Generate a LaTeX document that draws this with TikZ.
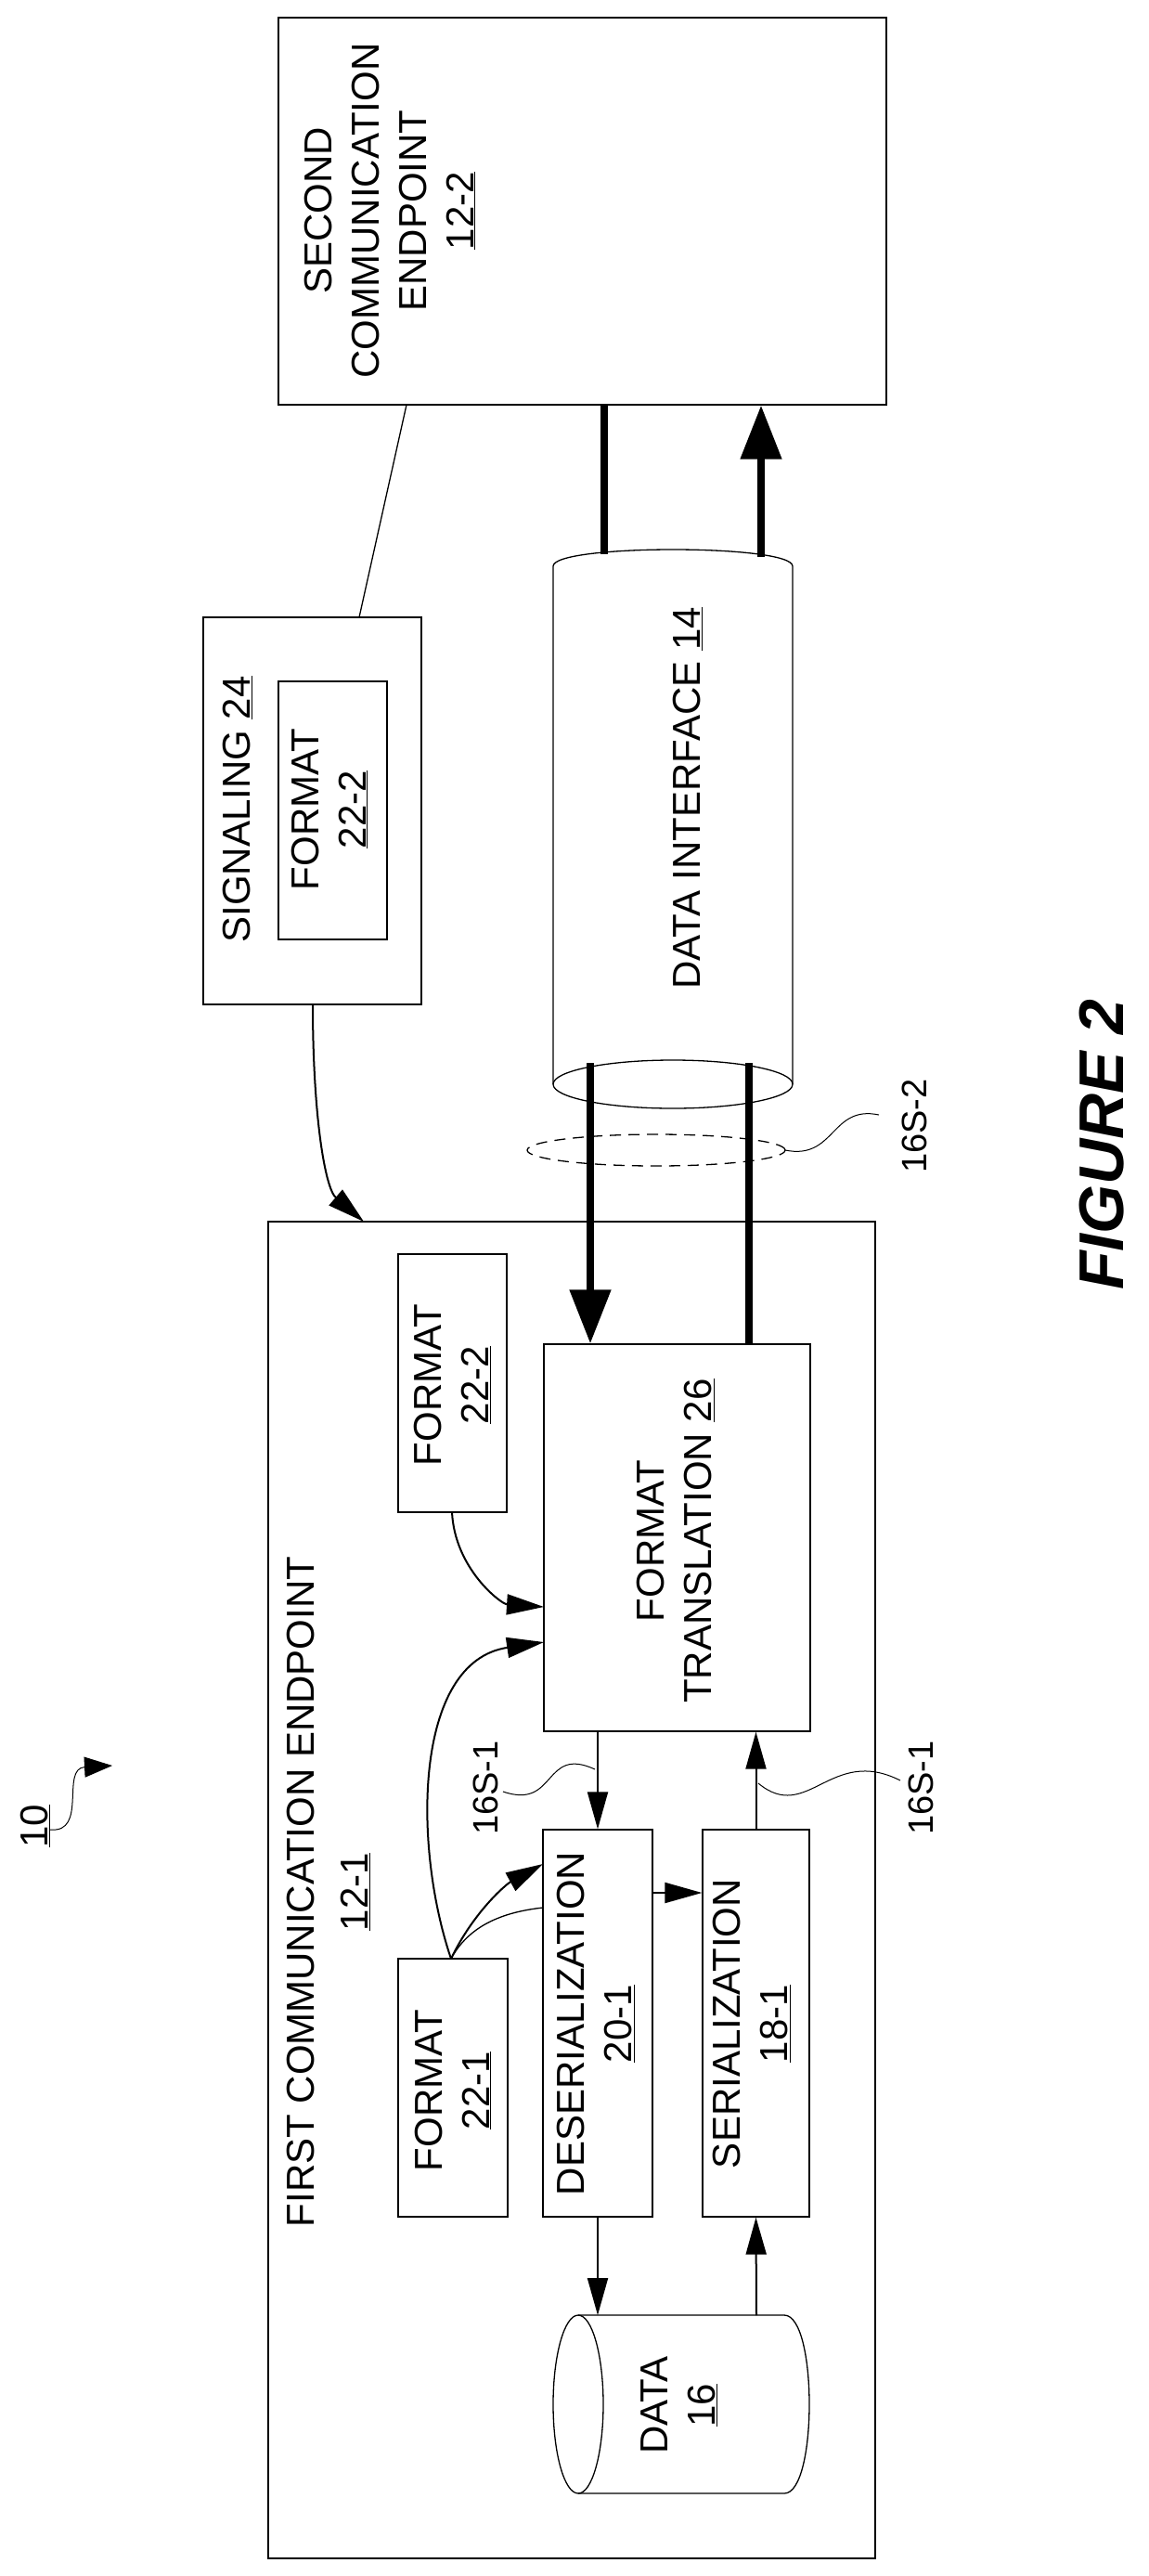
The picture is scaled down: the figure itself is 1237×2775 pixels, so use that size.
\documentclass[tikz,border=0pt]{standalone}
\usepackage{fontspec}
\setmainfont{Liberation Sans}
\usetikzlibrary{arrows.meta}
\begin{document}
\begin{tikzpicture}[x=1pt,y=-1pt,
  box/.style={draw,line width=1.3pt,inner sep=0pt},
  txt/.style={rotate=90,align=center,inner sep=0pt,font=\fontsize{42}{51}\selectfont},
  small/.style={rotate=90,inner sep=0pt,font=\fontsize{38}{46}\selectfont},
  thin/.style={line width=1pt},
  arr/.style={line width=2pt,-{Triangle[length=40pt,width=22pt]}},
  thick/.style={line width=8pt},
  tarr/.style={line width=8pt,-{Triangle[length=58pt,width=43pt]}},
  conn/.style={line width=1.3pt}]
\useasboundingbox (0,0) rectangle (1237,2775);
% second endpoint
\node[box,minimum width=655pt,minimum height=417pt] (ep2) at (627.5,227.5) {};
\node[txt] (ep2t) at (420,227) {SECOND\\COMMUNICATION\\ENDPOINT\\\underline{12-2}};
% signaling
\node[box,minimum width=235pt,minimum height=417pt] (sig) at (336.5,873.5) {};
\node[txt] (sigt) at (256,872) {SIGNALING \underline{24}};
\node[box,minimum width=117pt,minimum height=278pt] (sigf) at (358.5,873) {};
\node[txt] (sigft) at (355,872) {FORMAT\\\underline{22-2}};
% data interface cylinder
\draw[conn] (596,1168) -- (596,610) .. controls (596,586) and (854,586) .. (854,610) -- (854,1168);
\draw[conn] (725,1168) ellipse [x radius=129pt,y radius=26pt];
\coordinate (ditop) at (725,592);
\coordinate (dibot) at (725,1168);
\node[txt] (dit) at (741,860) {DATA INTERFACE \underline{14}};
% first endpoint
\node[box,minimum width=654pt,minimum height=1440pt] (ep1) at (616,2036) {};
\node[txt,font=\fontsize{42}{58}\selectfont] (ep1t) at (354,2038) {FIRST COMMUNICATION ENDPOINT\\\underline{12-1}};
\node[box,minimum width=117pt,minimum height=278pt] (f222) at (487.5,1490) {};
\node[txt] (f222t) at (487.5,1492) {FORMAT\\\underline{22-2}};
\node[box,minimum width=287pt,minimum height=417pt] (ft) at (729.5,1656.5) {};
\node[txt] (ftt) at (728,1660) {FORMAT\\TRANSLATION \underline{26}};
\node[box,minimum width=118pt,minimum height=278pt] (f221) at (488,2249) {};
\node[txt] (f221t) at (488,2252) {FORMAT\\\underline{22-1}};
\node[box,minimum width=118pt,minimum height=417pt] (des) at (644,2179.5) {};
\node[txt] (dest) at (642,2180) {DESERIALIZATION\\\underline{20-1}};
\node[box,minimum width=115pt,minimum height=417pt] (ser) at (814.5,2179.5) {};
\node[txt] (sert) at (810,2180) {SERIALIZATION\\\underline{18-1}};
% data cylinder
\draw[conn] (623,2494) -- (845,2494) .. controls (881,2494) and (881,2686) .. (845,2686) -- (623,2686);
\draw[conn] (623,2590) ellipse [x radius=27pt,y radius=96pt];
\coordinate (datatopL) at (644,2494);
\coordinate (datatopR) at (815,2494);
\node[txt] (datat) at (732,2591) {DATA\\\underline{16}};
% thick links
\coordinate (di1) at (651,597);
\coordinate (di2) at (820,600);
\draw[thick] (di1) -- (di1 |- ep2.south);
\draw[tarr] (di2) -- (di2 |- ep2.south);
\coordinate (db1) at (636,1145);
\coordinate (db2) at (807,1145);
\draw[tarr] (db1) -- (db1 |- ft.north);
\draw[thick] (db2) -- (db2 |- ft.north);
\draw[conn,dashed,dash pattern=on 12pt off 8pt] (707,1239) ellipse [x radius=139pt,y radius=17pt];
\node[small] (l162) at (985,1213) {16S-2};
\draw[thin] (846,1239) .. controls (900,1250) and (895,1190) .. (947,1201);
% signaling links
\draw[conn] (387,665) -- (438,436);
\draw[arr] (337,1082) .. controls (337,1200) and (350,1280) .. (392,1316);
% inner arrows
\draw[arr] (487,1629) .. controls (490,1690) and (540,1728) .. (586,1731);
\draw[arr] (486,2110) .. controls (445,1990) and (445,1790) .. (586,1769);
\draw[arr] (486,2110) .. controls (510,2060) and (545,2030) .. (585,2008);
\draw[conn] (486,2110) .. controls (505,2075) and (540,2060) .. (585,2055);
\draw[arr] (ft.south -| des.north) -- (des.north);
\draw[arr] (ser.north) -- (ser.north |- ft.south);
\draw[arr] (des.east |- 0,2039) -- (ser.west |- 0,2039);
\draw[arr] (des.south) -- (datatopL);
\draw[arr] (datatopR) -- (ser.south);
% 16S-1 labels
\node[small] (l161a) at (523,1926) {16S-1};
\draw[thin] (542,1930) .. controls (600,1950) and (585,1880) .. (641,1906);
\node[small] (l161b) at (992,1926) {16S-1};
\draw[thin] (817,1921) .. controls (870,1965) and (895,1880) .. (970,1918);
% 10
\node[txt] (ten) at (38,1967) {\underline{10}};
\draw[thin,-{Triangle[length=30pt,width=22pt]}] (54,1971) .. controls (95,1975) and (65,1905) .. (121,1902);
% figure label
\node[rotate=90,inner sep=0pt,font=\fontsize{68}{80}\selectfont\bfseries\itshape] (fig) at (1187,1233) {FIGURE 2};
\end{tikzpicture}
\end{document}
